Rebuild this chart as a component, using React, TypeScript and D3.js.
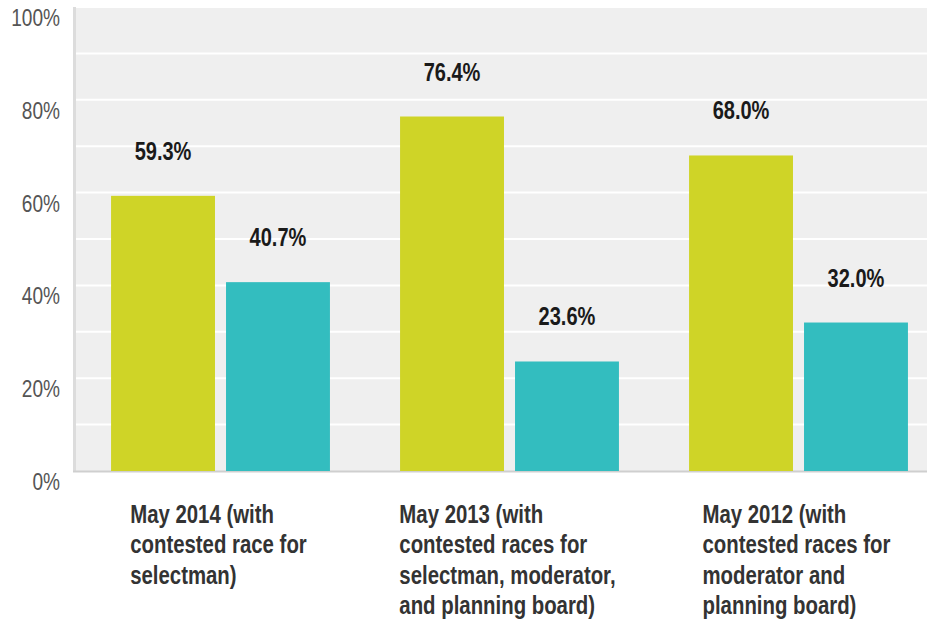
import React, { useEffect, useRef } from "react";
import * as d3 from "d3";

// data
const categories = ["May 2014", "May 2013", "May 2012"];
const categoryLines = [
  ["May 2014 (with", "contested race for", "selectman)"],
  ["May 2013 (with", "contested races for", "selectman, moderator,", "and planning board)"],
  ["May 2012 (with", "contested races for", "moderator and", "planning board)"]
];
const seriesNames = ["first", "second"];
const firstValues = [59.3, 76.4, 68.0];
const secondValues = [40.7, 23.6, 32.0];
const yTicks = [0, 20, 40, 60, 80, 100];
const gridTicks = [10, 20, 30, 40, 50, 60, 70, 80, 90, 100];

const colors = ["#cfd427", "#33bdbf"];
const font = "'Liberation Sans', Arial, sans-serif";

export default function App() {
  const ref = useRef<SVGSVGElement>(null);

  useEffect(() => {
    const svg = d3.select(ref.current);
    svg.selectAll("*").remove();

    const width = 927;
    const margin = { top: 7, left: 76, bottom: 148 };
    const plotBottom = 619 - margin.bottom;
    const groupStep = 289;

    const x0 = d3
      .scaleBand()
      .domain(categories)
      .range([margin.left, margin.left + groupStep * categories.length])
      .padding(0);
    const x1 = d3
      .scaleBand()
      .domain(seriesNames)
      .range([0, x0.bandwidth()])
      .paddingInner(0.096)
      .paddingOuter(0.305);
    const y = d3.scaleLinear().domain([0, 100]).range([plotBottom, margin.top]);

    // plot background
    svg
      .append("rect")
      .attr("x", margin.left)
      .attr("y", margin.top)
      .attr("width", width - margin.left)
      .attr("height", plotBottom - margin.top)
      .attr("fill", "#efefef");

    svg
      .append("g")
      .selectAll("line")
      .data(gridTicks)
      .enter()
      .append("line")
      .attr("x1", margin.left)
      .attr("x2", width)
      .attr("y1", d => y(d))
      .attr("y2", d => y(d))
      .attr("stroke", "#fff")
      .attr("stroke-width", 2);

    // left and bottom axis lines
    svg
      .append("rect")
      .attr("x", margin.left - 3)
      .attr("y", margin.top)
      .attr("width", 3)
      .attr("height", plotBottom - margin.top + 1)
      .attr("fill", "#dcdcdc");
    svg
      .append("line")
      .attr("x1", margin.left - 3)
      .attr("x2", width)
      .attr("y1", plotBottom + 0.5)
      .attr("y2", plotBottom + 0.5)
      .attr("stroke", "#cfcfcf")
      .attr("stroke-width", 2);

    // narrow look: squeeze Liberation Sans horizontally
    const sx = 0.815;

    // y tick labels
    svg
      .append("g")
      .selectAll("text")
      .data(yTicks)
      .enter()
      .append("text")
      .attr("transform", d => `translate(60,${y(d) + 19}) scale(0.83,1)`)
      .attr("text-anchor", "end")
      .attr("font-family", font)
      .attr("font-size", 23)
      .attr("fill", "#555")
      .text(d => d + "%");

    const rows = categories.map((c, i) => ({
      cat: c,
      vals: [firstValues[i], secondValues[i]]
    }));

    const groups = svg
      .append("g")
      .selectAll("g")
      .data(rows)
      .enter()
      .append("g")
      .attr("transform", d => `translate(${x0(d.cat)},0)`);

    const bars = groups
      .selectAll("g")
      .data(d => d.vals.map((v, j) => ({ key: seriesNames[j], v, j })))
      .enter()
      .append("g");

    bars
      .append("rect")
      .attr("x", d => x1(d.key))
      .attr("y", d => y(d.v))
      .attr("width", x1.bandwidth())
      .attr("height", d => plotBottom - y(d.v))
      .attr("fill", d => colors[d.j]);

    bars
      .append("text")
      .attr(
        "transform",
        d => `translate(${x1(d.key) + x1.bandwidth() / 2},${y(d.v) - 36}) scale(0.77,1)`
      )
      .attr("text-anchor", "middle")
      .attr("font-family", font)
      .attr("font-weight", "bold")
      .attr("font-size", 26)
      .attr("fill", "#1a1a1a")
      .text(d => d.v.toFixed(1) + "%");

    // category labels: left-aligned lines, block centred under the group
    categories.forEach((c, i) => {
      const t = svg
        .append("text")
        .attr("font-family", font)
        .attr("font-weight", "bold")
        .attr("font-size", 25)
        .attr("fill", "#333");
      t.selectAll("tspan")
        .data(categoryLines[i])
        .enter()
        .append("tspan")
        .attr("x", 0)
        .attr("y", (d, k) => k * 30.5)
        .text(d => d);
      let maxW = 0;
      t.selectAll("tspan").each(function () {
        maxW = Math.max(maxW, (this as SVGTSpanElement).getComputedTextLength());
      });
      const cx = x0(c) + x0.bandwidth() / 2 - 2;
      t.attr("transform", `translate(${cx - (maxW * sx) / 2},523) scale(${sx},1)`);
    });
  }, []);

  return (
    <svg
      ref={ref}
      width={927}
      height={619}
      style={{ position: "absolute", left: 0, top: 0, background: "#fff" }}
    />
  );
}
